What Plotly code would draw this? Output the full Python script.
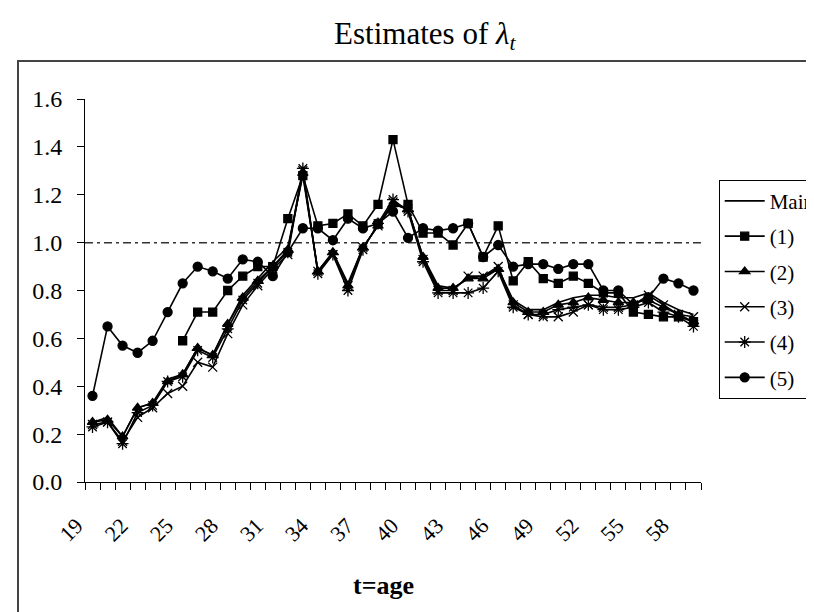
import plotly.graph_objects as go

ages = [19, 20, 21, 22, 23, 24, 25, 26, 27, 28, 29, 30, 31, 32, 33, 34, 35, 36, 37, 38,
        39, 40, 41, 42, 43, 44, 45, 46, 47, 48, 49, 50, 51, 52, 53, 54, 55, 56, 57, 58, 59]
tick_ages = [19, 22, 25, 28, 31, 34, 37, 40, 43, 46, 49, 52, 55, 58]
tick_labels = ["19", "22", "25", "28", "31", "34", "37", "40", "43", "46", "49", "52", "55", "58"]

main = [0.25, 0.27, 0.19, 0.31, 0.33, 0.43, 0.45, 0.56, 0.53, 0.66, 0.78, 0.85, 0.92, 0.98, 1.28,
        0.88, 0.96, 0.83, 0.98, 1.07, 1.16, 1.14, 0.94, 0.82, 0.81, 0.85, 0.86, 0.89, 0.76, 0.72,
        0.72, 0.75, 0.77, 0.78, 0.78, 0.77, 0.77, 0.79, 0.75, 0.72, 0.70]
s1 = [None, None, None, None, None, None,
      0.59, 0.71, 0.71, 0.80, 0.86, 0.90, 0.90, 1.10, 1.28, 1.07, 1.08, 1.12, 1.07, 1.16, 1.43,
      1.16, 1.04, 1.04, 0.99, 1.08, 0.94, 1.07, 0.84, 0.92, 0.85, 0.83, 0.86, 0.83, 0.79, 0.79,
      0.71, 0.70, 0.69, 0.69, 0.67]
s2 = [0.25, 0.26, 0.19, 0.31, 0.33, 0.42, 0.45, 0.56, 0.53, 0.66, 0.77, 0.84, 0.90, 0.97, 1.29,
      0.88, 0.96, 0.82, 0.98, 1.07, 1.16, 1.14, 0.94, 0.81, 0.81, 0.85, 0.85, 0.89, 0.75, 0.71,
      0.71, 0.74, 0.75, 0.77, 0.76, 0.75, 0.75, 0.76, 0.73, 0.70, 0.67]
s3 = [0.24, 0.25, 0.17, 0.27, 0.31, 0.37, 0.40, 0.50, 0.48, 0.62, 0.74, 0.82, 0.89, 0.95, 1.30,
      0.88, 0.95, 0.82, 0.98, 1.07, 1.17, 1.14, 0.93, 0.80, 0.80, 0.86, 0.86, 0.90, 0.74, 0.70,
      0.69, 0.69, 0.71, 0.74, 0.73, 0.73, 0.74, 0.78, 0.74, 0.70, 0.69]
s4 = [0.23, 0.25, 0.16, 0.29, 0.32, 0.42, 0.44, 0.55, 0.52, 0.64, 0.76, 0.83, 0.90, 0.96, 1.31,
      0.87, 0.95, 0.80, 0.97, 1.08, 1.18, 1.13, 0.92, 0.79, 0.79, 0.79, 0.81, 0.88, 0.73, 0.70,
      0.70, 0.72, 0.73, 0.74, 0.72, 0.72, 0.73, 0.75, 0.71, 0.69, 0.65]
s5 = [0.36, 0.65, 0.57, 0.54, 0.59, 0.71, 0.83, 0.90, 0.88, 0.85, 0.93, 0.92, 0.86, 0.96, 1.06,
      1.06, 1.01, 1.10, 1.06, 1.08, 1.13, 1.02, 1.06, 1.05, 1.06, 1.08, 0.94, 0.99, 0.90, 0.91,
      0.91, 0.89, 0.91, 0.91, 0.80, 0.80, 0.74, 0.77, 0.85, 0.83, 0.80]

FONT = "Liberation Serif, Times New Roman, serif"

series = [
    ("Main", main, None, 0),
    ("(1)", s1, "square", 8),
    ("(2)", s2, "triangle-up", 9),
    ("(3)", s3, "x-thin", 9),
    ("(4)", s4, "asterisk", 10),
    ("(5)", s5, "circle", 9),
]

fig = go.Figure()
for i, (name, vals, sym, size) in enumerate(series):
    if sym is None:
        mode = "lines"
        marker = None
    else:
        mode = "lines+markers"
        marker = dict(symbol=sym, size=size, color="black",
                      line=dict(color="black", width=1.3))
    fig.add_trace(go.Scatter(
        x=ages, y=vals, name=name, mode=mode, marker=marker,
        line=dict(color="black", width=1.6), legendgroup=f"g{i}",
        connectgaps=False,
    ))

fig.update_layout(
    width=814, height=612,
    paper_bgcolor="white", plot_bgcolor="white",
    margin=dict(l=77, r=121, t=91, b=138, autoexpand=False),
    font=dict(family=FONT, size=22, color="black"),
    title=dict(text="Estimates of <i>λ</i><sub><i>t</i></sub>", x=0.512, xanchor="center",
               y=1 - 25 / 612, yanchor="middle", font=dict(family=FONT, size=31, color="black")),
    showlegend=True,
    legend=dict(x=(710.7 - 77) / 616, y=(474 - 171.7) / 383, xanchor="left", yanchor="top",
                bordercolor="black", borderwidth=1, bgcolor="white",
                font=dict(family=FONT, size=21, color="black"),
                tracegroupgap=5, itemwidth=40),
    xaxis=dict(range=[18.5, 59.5], tickmode="array", tickvals=tick_ages, ticktext=tick_labels,
               ticks="", tickangle=-45, showline=True, linecolor="black", linewidth=1,
               showgrid=False, zeroline=False, ticklabelstandoff=21, ticklabelshift=-16,
               tickfont=dict(family=FONT, size=22, color="black"),
               minor=dict(tickmode="linear", tick0=18.5, dtick=1, ticks="outside", ticklen=7,
                          tickcolor="black", tickwidth=1, showgrid=False)),
    yaxis=dict(range=[0, 1.6], dtick=0.2, tick0=0, tickformat=".1f", ticks="outside", ticklen=7,
               tickcolor="black", showline=True, linecolor="black", linewidth=1,
               showgrid=False, zeroline=False, ticklabelstandoff=10,
               tickfont=dict(family=FONT, size=24, color="black")),
    shapes=[
        dict(type="line", xref="paper", yref="y", x0=0, x1=1, y0=1.0, y1=1.0,
             line=dict(color="#333333", width=1.5, dash="8px,4px,3px,4px"), layer="below"),
        dict(type="rect", xref="paper", yref="paper",
             x0=(10 - 77) / 616, x1=(830 - 77) / 616,
             y0=(474 - 640) / 383, y1=(474 - 53) / 383,
             line=dict(color="#444444", width=2), fillcolor="rgba(0,0,0,0)"),
    ],
    annotations=[
        dict(text="<b>t=age</b>", xref="paper", yref="paper", x=0.485, y=(474 - 577) / 383,
             xanchor="center", yanchor="middle", showarrow=False,
             font=dict(family=FONT, size=26, color="black")),
    ],
)

fig.write_html("out.html")
